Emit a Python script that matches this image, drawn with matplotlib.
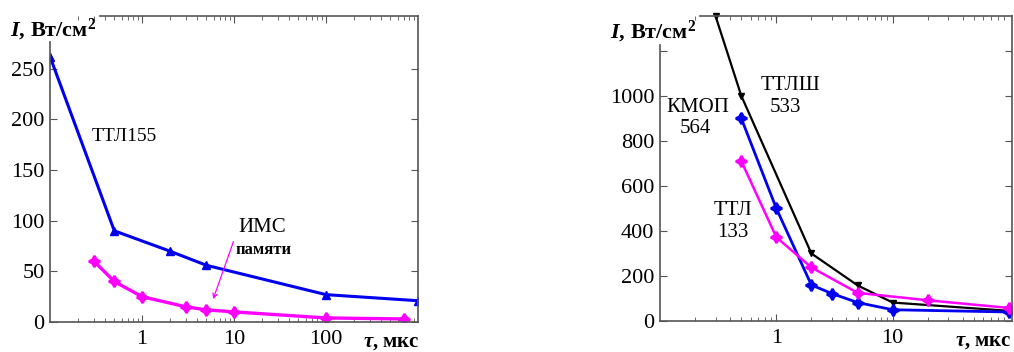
import numpy as np
import matplotlib
matplotlib.use('Agg')
import matplotlib.pyplot as plt
from matplotlib.ticker import FixedLocator, LogLocator, NullFormatter, FixedFormatter

plt.rcParams['font.family'] = ['Liberation Serif', 'DejaVu Serif']
plt.rcParams['mathtext.fontset'] = 'custom'
plt.rcParams['mathtext.rm'] = 'Liberation Serif'
plt.rcParams['mathtext.bf'] = 'Liberation Serif:bold'
plt.rcParams['mathtext.it'] = 'Liberation Serif:italic'
plt.rcParams['mathtext.bfit'] = 'Liberation Serif:italic:bold'

# left panel: ТТЛ155 and memory ICs
ttl155_t = [0.1, 0.5, 2, 5, 100, 1000]
ttl155_i = [262, 90, 70, 56, 27, 21]
ims_t = [0.3, 0.5, 1, 3, 5, 10, 100, 700]
ims_i = [60, 40, 25, 15, 12, 10, 4, 3]

# right panel
ttlsh_t = [0.3, 0.5, 2, 5, 10, 100]
ttlsh_i = [1355, 1000, 300, 158, 82, 45]
kmop_t = [0.5, 1, 2, 3, 5, 10, 100]
kmop_i = [900, 500, 160, 122, 82, 50, 40]
ttl133_t = [0.5, 1, 2, 5, 20, 100]
ttl133_i = [710, 372, 238, 125, 92, 58]

left_yticks = [0, 50, 100, 150, 200, 250]
right_yticks = [0, 200, 400, 600, 800, 1000, 1200]
right_ylabels = ['0', '200', '400', '600', '800', '1000', '']

W, H = 1014, 352
fig = plt.figure(figsize=(W / 100, H / 100), dpi=100)

def px(x0, y0, x1, y1):
    return [x0 / W, 1 - y1 / H, (x1 - x0) / W, (y1 - y0) / H]

spine_c = '#555555'
star = (4, 1, 0)


def style(ax, xt, yt, ylabels=None):
    ax.set_xscale('log')
    ax.xaxis.set_major_locator(FixedLocator(xt))
    ax.xaxis.set_major_formatter(FixedFormatter([str(v) for v in xt]))
    ax.xaxis.set_minor_locator(LogLocator(base=10, subs=np.arange(2, 10), numticks=20))
    ax.xaxis.set_minor_formatter(NullFormatter())
    ax.set_yticks(yt)
    if ylabels is not None:
        ax.set_yticklabels(ylabels)
    ax.tick_params(which='both', direction='in', top=True, right=True,
                   color=spine_c, labelsize=16)
    ax.tick_params(which='major', length=5)
    ax.tick_params(which='minor', length=3)
    ax.tick_params(axis='x', pad=6)
    ax.tick_params(axis='y', pad=4)
    for s in ax.spines.values():
        s.set_color(spine_c)
        s.set_linewidth(1.2)


# ---- left
ax1 = fig.add_axes(px(50, 16, 418, 322))
ax1.plot(ttl155_t, ttl155_i, color='#0000ee', lw=2.2, marker='^', ms=6)
ax1.plot(ims_t, ims_i, color='#ff00ff', lw=2.4, marker=star, ms=8, mew=1.8)
ax1.set_xlim(0.1, 1000)
ax1.set_ylim(0, 302)
style(ax1, [1, 10, 100], left_yticks)
ax1.spines['left'].set_bounds(0, 276)
ax1.spines['top'].set_bounds(0.35, 1000)
ax1.text(0.65, 183, 'ТТЛ155', fontsize=14, ha='center', va='center')
ax1.text(20, 93, 'ИМС', fontsize=15, ha='center', va='center')
ax1.text(21, 71, 'памяти', fontsize=12, fontweight='bold', ha='center', va='center')
ax1.annotate('', xy=(5.8, 20), xytext=(10.1, 82),
             arrowprops=dict(arrowstyle='->', color='#ff00ff', lw=0.9,
                             mutation_scale=8))

# ---- right
ax2 = fig.add_axes(px(660, 16, 1012, 321))
ax2.plot(ttlsh_t, ttlsh_i, color='black', lw=1.6, marker='v', ms=5, clip_on=False)
ax2.plot(kmop_t, kmop_i, color='#0000ee', lw=2.0, marker=star, ms=8, mew=1.8)
ax2.plot(ttl133_t, ttl133_i, color='#ff00ff', lw=1.8, marker=star, ms=8, mew=1.8)
ax2.set_xlim(0.1, 106)
ax2.set_ylim(0, 1355)
style(ax2, [1, 10], right_yticks, right_ylabels)
ax2.spines['left'].set_bounds(0, 1225)
ax2.spines['top'].set_bounds(0.22, 106)
ax2.text(1.32, 1047, 'ТТЛШ', fontsize=15, ha='center', va='center')
ax2.text(1.2, 950, '533', fontsize=15, ha='center', va='center')
ax2.text(0.213, 950, 'КМОП', fontsize=15, ha='center', va='center')
ax2.text(0.2, 857, '564', fontsize=15, ha='center', va='center')
ax2.text(0.42, 493, 'ТТЛ', fontsize=15, ha='center', va='center')
ax2.text(0.42, 395, '133', fontsize=15, ha='center', va='center')

ylab = r'$\mathbfit{I}$, Вт/см$^{\mathbf{2}}$'
xlab = r'$\mathbfit{\tau}$, мкс'
fig.text(10 / W, 1 - 30 / H, ylab, fontsize=16, fontweight='bold', va='center', ha='left')
fig.text(610 / W, 1 - 32 / H, ylab, fontsize=16, fontweight='bold', va='center', ha='left')
fig.text(420 / W, 1 - 342 / H, xlab, fontsize=15, fontweight='bold', va='center', ha='right')
fig.text(1012 / W, 1 - 341 / H, xlab, fontsize=15, fontweight='bold', va='center', ha='right')

fig.savefig('out.png', dpi=100)
